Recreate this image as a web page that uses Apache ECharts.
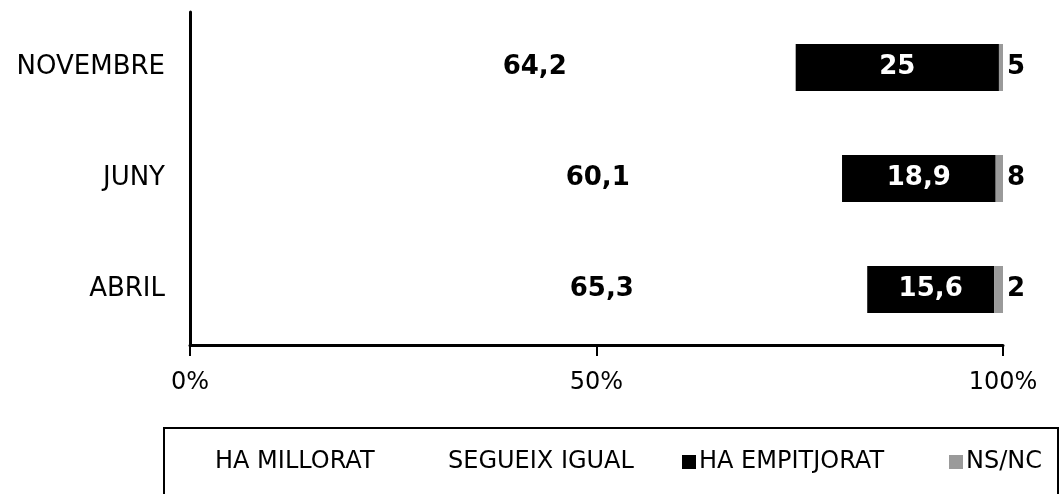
<!DOCTYPE html>
<html>
<head>
<meta charset="utf-8">
<script src="https://cdn.jsdelivr.net/npm/echarts@6/dist/echarts.min.js"></script>
<style>
html,body{margin:0;padding:0;background:#fff;}
#main{width:1063px;height:494px;}
</style>
</head>
<body>
<div id="main"></div>
<script>
var categories = ['NOVEMBRE', 'JUNY', 'ABRIL'];
var xTicks = [0, 50, 100];
var millorat = [10.3, 20.1, 18.0];
var segueix = [64.2, 60.1, 65.3];
var empitjorat = [25, 18.9, 15.6];
var nsnc = [0.5, 0.9, 1.1];
var nsncLabels = ['5', '8', '2'];

var font = 'DejaVu Sans';
var comma = function (p) {
    return String(p.value).replace('.', ',');
};

var legendItem = function (name, left, color) {
    return {
        left: left,
        top: 445,
        itemWidth: 14,
        itemHeight: 14,
        itemGap: 0,
        icon: 'rect',
        selectedMode: false,
        textStyle: { color: '#000', fontFamily: font, fontSize: 24, padding: [0, 0, 0, -2] },
        data: [{ name: name, itemStyle: { color: color } }]
    };
};

var option = {
    backgroundColor: '#fff',
    animation: false,
    grid: { left: 190, right: 60, top: 12, bottom: 149, containLabel: false },
    legend: [
        legendItem('HA MILLORAT', 193, '#fff'),
        legendItem('SEGUEIX IGUAL', 426, '#fff'),
        legendItem('HA EMPITJORAT', 677, '#000'),
        legendItem('NS/NC', 944, '#9a9a9a')
    ],
    graphic: [{
        type: 'rect',
        shape: { x: 164, y: 428, width: 894, height: 90 },
        style: { fill: 'none', stroke: '#000', lineWidth: 2 }
    }],
    xAxis: {
        type: 'value',
        min: xTicks[0],
        max: xTicks[xTicks.length - 1],
        interval: xTicks[1] - xTicks[0],
        axisLine: { show: true, lineStyle: { color: '#000', width: 3 } },
        axisTick: { show: true, length: 11, lineStyle: { color: '#000', width: 2 } },
        splitLine: { show: false },
        axisLabel: { formatter: '{value}%', color: '#000', fontFamily: font, fontSize: 24, margin: 26 }
    },
    yAxis: {
        type: 'category',
        inverse: true,
        data: categories,
        axisLine: { show: true, lineStyle: { color: '#000', width: 3 } },
        axisTick: { show: false },
        axisLabel: { color: '#000', fontFamily: font, fontSize: 26, margin: 25, padding: [4, 0, 0, 0] }
    },
    series: [
        {
            name: 'HA MILLORAT',
            type: 'bar',
            stack: 'total',
            barWidth: 47,
            itemStyle: { color: 'rgba(255,255,255,0)' },
            data: millorat
        },
        {
            name: 'SEGUEIX IGUAL',
            type: 'bar',
            stack: 'total',
            itemStyle: { color: 'rgba(255,255,255,0)' },
            label: {
                show: true,
                position: 'inside',
                color: '#000',
                fontFamily: font,
                fontWeight: 'bold',
                fontSize: 26,
                formatter: comma
            },
            data: segueix
        },
        {
            name: 'HA EMPITJORAT',
            type: 'bar',
            stack: 'total',
            itemStyle: { color: '#000' },
            label: {
                show: true,
                position: 'inside',
                color: '#fff',
                fontFamily: font,
                fontWeight: 'bold',
                fontSize: 26,
                formatter: comma
            },
            data: empitjorat
        },
        {
            name: 'NS/NC',
            type: 'bar',
            stack: 'total',
            itemStyle: { color: '#9a9a9a' },
            label: {
                show: true,
                position: 'right',
                distance: 4,
                color: '#000',
                fontFamily: font,
                fontWeight: 'bold',
                fontSize: 26,
                formatter: function (p) { return nsncLabels[p.dataIndex]; }
            },
            data: nsnc
        }
    ]
};

var chart = echarts.init(document.getElementById('main'));
chart.setOption(option);
</script>
</body>
</html>
